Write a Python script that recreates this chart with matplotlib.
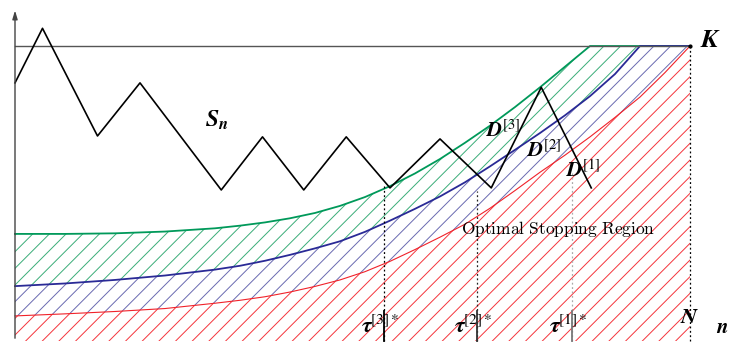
import matplotlib.pyplot as plt
import numpy as np

plt.rcParams["hatch.linewidth"] = 0.7
plt.rcParams["mathtext.fontset"] = "cm"

# horizon and boundary level
N = 27
K = 10

# random walk S_n
s_x = [0, 1.1, 3.3, 5.0, 8.25, 9.9, 11.55, 13.25, 15.0, 17.0, 19.05, 21.05, 23.05]
s_y = [8.75, 10.6, 6.95, 8.75, 5.12, 6.92, 5.12, 6.92, 5.19, 6.85, 5.19, 8.6, 5.19]

# stopping boundaries D[3], D[2], D[1]
grid_x = [0, 2, 4, 6, 8, 9, 10, 11, 12, 13, 14, 15, 16, 17, 18, 19, 20, 21, 22,
          23, 24, 25, 26, 27]
d3 = [3.63, 3.63, 3.65, 3.71, 3.82, 3.91, 4.02, 4.16, 4.34, 4.58, 4.88, 5.25, 5.68,
      6.17, 6.72, 7.3, 7.93, 8.6, 9.3, 10, 10, 10, 10, 10]
d2 = [1.86, 1.95, 2.07, 2.22, 2.42, 2.55, 2.72, 2.92, 3.14, 3.38, 3.7, 4.08, 4.48,
      4.9, 5.38, 5.92, 6.48, 7.05, 7.65, 8.3, 9.05, 10, 10, 10]
d1 = [0.85, 0.92, 1.0, 1.1, 1.28, 1.38, 1.5, 1.66, 1.85, 2.07, 2.35, 2.7, 3.1,
      3.52, 3.96, 4.5, 5.1, 5.72, 6.3, 6.92, 7.58, 8.27, 9.1, 10]

# optimal stopping times
tau_x = [14.76, 18.48, 22.28]
tau_top = [5.25, 5.1, 5.7]
tau_names = [r"$\boldsymbol{\tau}^{[3]*}$", r"$\boldsymbol{\tau}^{[2]*}$",
             r"$\boldsymbol{\tau}^{[1]*}$"]

green = "#00995a"
blue = "#2a2a96"
red = "#f0222a"

fig = plt.figure(figsize=(7.31, 3.45), dpi=100)
ax = fig.add_axes([0, 0, 1, 1])
ax.set_xlim(-0.6, 28.64)
ax.set_ylim(-0.136, 11.56)
ax.axis("off")

gx = np.array(grid_x)
ax.fill_between(gx, d2, d3, facecolor="none", edgecolor="#3aad78", hatch="//", linewidth=0)
ax.fill_between(gx, d1, d2, facecolor="none", edgecolor="#6a6ab0", hatch="//", linewidth=0)
ax.fill_between(gx, 0, d1, facecolor="none", edgecolor="#f4343c", hatch="//", linewidth=0)

ax.plot(gx, d3, color=green, lw=1.3)
ax.plot(gx, d2, color=blue, lw=1.3)
ax.plot(gx, d1, color=red, lw=0.8)

# boundary level K and horizon N
ax.plot([0, N], [K, K], color="#555555", lw=1)
ax.plot([N, N], [0, K], color="black", lw=0.9, ls=(0, (1.5, 2)))
ax.plot([N], [K], marker="o", ms=2, color="black")

ax.plot(s_x, s_y, color="black", lw=1.2)

tick_cols = ["black", "#333333", "#777777"]
dot_cols = ["black", "#222222", "#aaaaaa"]
for tx, top, name, tc, dc in zip(tau_x, tau_top, tau_names, tick_cols, dot_cols):
    ax.plot([tx, tx], [0, top], color=dc, lw=0.9, ls=(0, (1.5, 2)))
    ax.plot([tx, tx], [0, 1.0], color=tc, lw=1.3)
    ax.text(tx - 0.15, 0.27, name, fontsize=16, ha="center", va="baseline",
            math_fontfamily="stix")

# axes with arrows
ax.annotate("", xy=(0, 11.3), xytext=(0, 0),
            arrowprops=dict(arrowstyle="-|>,head_length=0.5,head_width=0.15",
                            color="#444444", lw=1))
ax.annotate("", xy=(28.8, 0), xytext=(0, 0),
            arrowprops=dict(arrowstyle="-|>,head_length=0.5,head_width=0.15",
                            color="#444444", lw=1))

ax.text(27.4, 10.2, r"$\boldsymbol{K}$", fontsize=19, ha="left", va="center",
        math_fontfamily="stix")
ax.text(27.0, 0.8, r"$\boldsymbol{N}$", fontsize=16, ha="center", va="center",
        math_fontfamily="stix")
ax.text(28.3, 0.47, r"$\boldsymbol{n}$", fontsize=15, ha="center", va="center",
        math_fontfamily="stix")
ax.text(7.6, 7.5, r"$\boldsymbol{S}_{\boldsymbol{n}}$", fontsize=17, ha="left",
        va="center", math_fontfamily="stix")
ax.text(18.84, 7.15, r"$\boldsymbol{D}^{[3]}$", fontsize=15, ha="left", va="center",
        math_fontfamily="stix")
ax.text(20.48, 6.47, r"$\boldsymbol{D}^{[2]}$", fontsize=15, ha="left", va="center",
        math_fontfamily="stix")
ax.text(22.04, 5.8, r"$\boldsymbol{D}^{[1]}$", fontsize=15, ha="left", va="center",
        math_fontfamily="stix")
ax.text(21.72, 3.8, r"$\mathrm{Optimal\ Stopping\ Region}$", fontsize=12.5,
        ha="center", va="center")

fig.savefig("out.png", dpi=100)
